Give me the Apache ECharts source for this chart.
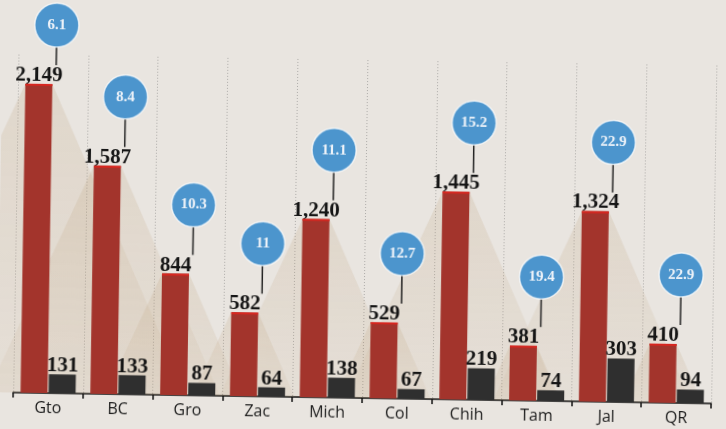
<!DOCTYPE html>
<html>
<head>
<meta charset="utf-8">
<script src="https://cdn.jsdelivr.net/npm/echarts@6/dist/echarts.min.js"></script>
<style>
  html, body { margin: 0; padding: 0; background: #e9e5e0; overflow: hidden; }
  #chart { width: 726px; height: 429px; transform: rotate(0.9deg); }
</style>
</head>
<body>
<div id="chart"></div>
<script>
// estados
var categories = ['Gto', 'BC', 'Gro', 'Zac', 'Mich', 'Col', 'Chih', 'Tam', 'Jal', 'QR'];
// barras rojas
var redValues = [2149, 1587, 844, 582, 1240, 529, 1445, 381, 1324, 410];
// barras negras
var darkValues = [131, 133, 87, 64, 138, 67, 219, 74, 303, 94];
// globos azules
var rates = ['6.1', '8.4', '10.3', '11', '11.1', '12.7', '15.2', '19.4', '22.9', '22.9'];

var barW = 27;

var coneData = [];
var bubbleData = [];
for (var i = 0; i < redValues.length; i++) {
    coneData.push([i, redValues[i]]);
    bubbleData.push([i, redValues[i], rates[i]]);
}

var renderCone = function (params, api) {
    var top = api.coord([api.value(0), api.value(1)]);
    var base = api.coord([api.value(0), 0]);
    var cx = top[0] - (barW + 1) / 2;
    var h = base[1] - top[1];
    var spread = h * 0.45;
    return {
        type: 'polygon',
        shape: {
            points: [
                [cx - barW / 2, top[1]],
                [cx + barW / 2, top[1]],
                [cx + barW / 2 + spread, base[1]],
                [cx - barW / 2 - spread, base[1]]
            ]
        },
        style: {
            fill: new echarts.graphic.LinearGradient(0, 0, 0, 1, [
                { offset: 0, color: 'rgba(180,145,100,0.17)' },
                { offset: 1, color: 'rgba(180,145,100,0.07)' }
            ])
        },
        silent: true
    };
};

var renderBubble = function (params, api) {
    var top = api.coord([api.value(0), api.value(1)]);
    var r = 22;
    var bx = top[0] + 3;
    var by = Math.max(top[1] - 69, 30);
    var redX = top[0] - (barW + 1) / 2;
    return {
        type: 'group',
        children: [
            {
                type: 'rect',
                shape: { x: redX - barW / 2, y: top[1], width: barW, height: 2 },
                style: { fill: '#d8261f' }
            },
            {
                type: 'line',
                shape: { x1: bx, y1: by + r, x2: bx, y2: top[1] - 19 },
                style: { stroke: '#222', lineWidth: 1.5 }
            },
            {
                type: 'circle',
                shape: { cx: bx, cy: by, r: r },
                style: { fill: '#4c95cd', stroke: 'rgba(255,255,255,0.7)', lineWidth: 1.5 }
            },
            {
                type: 'text',
                x: bx,
                y: by,
                style: {
                    text: api.value(2),
                    fill: '#eef3f9',
                    fontFamily: '"Liberation Serif", serif',
                    fontWeight: 'bold',
                    fontSize: 15,
                    align: 'center',
                    verticalAlign: 'middle'
                }
            }
        ]
    };
};

var numLabel = {
    show: true,
    position: 'top',
    distance: -2,
    color: '#151515',
    fontFamily: '"Liberation Serif", serif',
    fontWeight: 'bold',
    fontSize: 21
};

var option = {
    animation: false,
    backgroundColor: 'transparent',
    grid: { left: 16, right: 12, top: 60, bottom: 31 },
    xAxis: {
        type: 'category',
        data: categories,
        axisLine: { lineStyle: { color: '#111', width: 1.5 } },
        axisTick: { show: true, length: 5, lineStyle: { color: '#111', width: 1.5 } },
        axisLabel: {
            color: '#1c1c1c',
            fontFamily: '"Open Sans", sans-serif',
            fontSize: 16,
            margin: 7
        },
        splitLine: {
            show: true,
            lineStyle: { color: '#666', type: [1, 2], width: 1, opacity: 0.45 }
        }
    },
    yAxis: {
        type: 'value',
        min: 0,
        max: 2350,
        show: false
    },
    series: [
        {
            type: 'custom',
            data: coneData,
            renderItem: renderCone,
            z: 1,
            silent: true
        },
        {
            type: 'bar',
            data: redValues,
            barWidth: barW,
            barGap: '4%',
            z: 2,
            itemStyle: { color: '#a3342c' },
            label: Object.assign({}, numLabel, {
                formatter: function (p) { return p.value.toLocaleString('en-US'); }
            })
        },
        {
            type: 'bar',
            data: darkValues,
            barWidth: barW,
            z: 2,
            itemStyle: { color: '#2f2f2f' },
            label: numLabel
        },
        {
            type: 'custom',
            data: bubbleData,
            renderItem: renderBubble,
            clip: false,
            z: 5
        }
    ]
};

var myChart = echarts.init(document.getElementById('chart'));
myChart.setOption(option, true);
</script>
</body>
</html>
